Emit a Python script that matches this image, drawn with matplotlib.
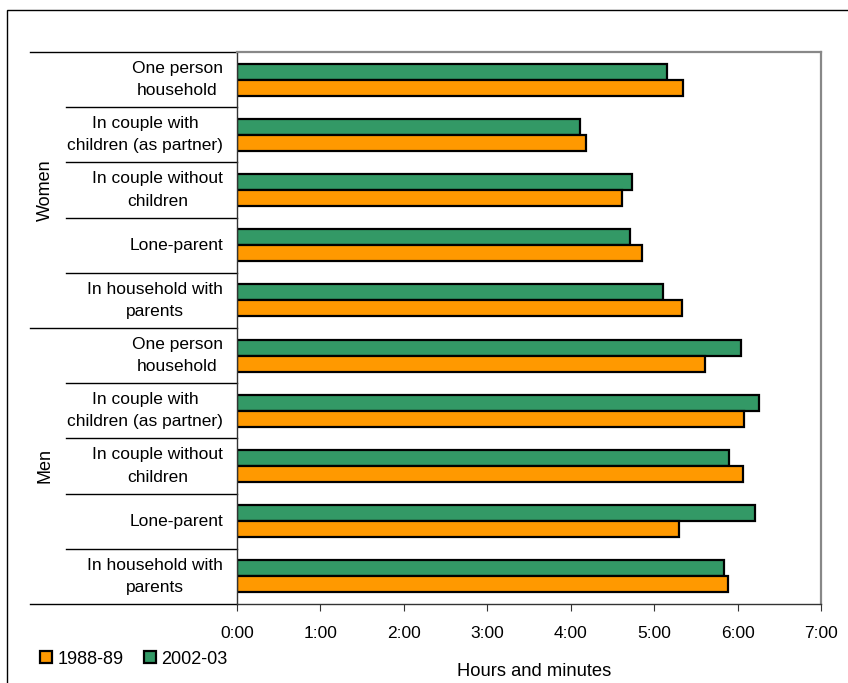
import numpy as np
import matplotlib.pyplot as plt
from matplotlib.patches import Patch, Rectangle

plt.rcParams['font.family'] = ['Liberation Sans', 'DejaVu Sans']

# categories, top to bottom
labels = ["One person\nhousehold", "In couple with\nchildren (as partner)",
          "In couple without\nchildren", "Lone-parent",
          "In household with\nparents"] * 2
groups = ["Women", "Men"]
# hours (decimal)
y2002 = [5.16, 4.11, 4.73, 4.71, 5.11, 6.04, 6.26, 5.90, 6.21, 5.84]
y1988 = [5.35, 4.18, 4.61, 4.86, 5.33, 5.61, 6.08, 6.06, 5.30, 5.88]
xticks = [0, 1, 2, 3, 4, 5, 6, 7]
xticklabels = ["%d:00" % h for h in xticks]

W, H = 848, 683
fig = plt.figure(figsize=(W / 100, H / 100), dpi=100)
ax = fig.add_axes([237 / W, 1 - 604 / H, 584 / W, 552 / H])

green = "#339966"
orange = "#FF9900"
bh = 0.29
pos = np.arange(len(labels))
ax.barh(pos - bh / 2, y2002, height=bh, color=green, edgecolor="black", linewidth=1.6)
ax.barh(pos + bh / 2, y1988, height=bh, color=orange, edgecolor="black", linewidth=1.6)

ax.set_ylim(len(labels) - 0.5, -0.5)
ax.set_xlim(0, 7)
ax.set_yticks([])
ax.set_xticks(xticks)
ax.set_xticklabels(xticklabels, fontsize=12.5)
ax.tick_params(axis="x", direction="out", length=5, pad=11, color="#333333")

for s in ["top", "right"]:
    ax.spines[s].set_color("#888888")
    ax.spines[s].set_linewidth(1.6)
for s in ["left", "bottom"]:
    ax.spines[s].set_color("#333333")
    ax.spines[s].set_linewidth(1.0)

# category labels and separators
tr = ax.get_yaxis_transform()
axw = 584.0
for i, lab in enumerate(labels):
    ax.text(-14 / axw, i, lab, transform=tr, ha="right", va="center",
            ma="center", fontsize=12.5, linespacing=1.6)
for b in np.arange(len(labels) + 1) - 0.5:
    x0 = 30 if b in (-0.5, 4.5, 9.5) else 66
    ax.plot([-(237 - x0) / axw, 0], [b, b], transform=tr, color="black",
            lw=1.0, clip_on=False)
for g, c in zip(groups, [2, 7]):
    ax.text(-(237 - 45) / axw, c, g, transform=tr, rotation=90,
            ha="center", va="center", fontsize=13)

# legend
handles = [Patch(facecolor=orange, edgecolor="black", lw=1.6, label="1988-89"),
           Patch(facecolor=green, edgecolor="black", lw=1.6, label="2002-03")]
fig.legend(handles=handles, loc="center left", bbox_to_anchor=(40 / W, 1 - 659 / H),
           ncol=2, frameon=False, fontsize=13, handlelength=0.68, handleheight=0.68,
           handletextpad=0.3, columnspacing=1.1, borderaxespad=0, borderpad=0)

fig.text(534 / W, 1 - 672 / H, "Hours and minutes", ha="center", va="center", fontsize=13.2)

# outer frame
fig.patches.append(Rectangle((7 / W, -0.1), 1.2, 1 - 10 / H + 0.1, transform=fig.transFigure,
                             fill=False, edgecolor="black", lw=1.0))

fig.savefig("out.png", dpi=100)
